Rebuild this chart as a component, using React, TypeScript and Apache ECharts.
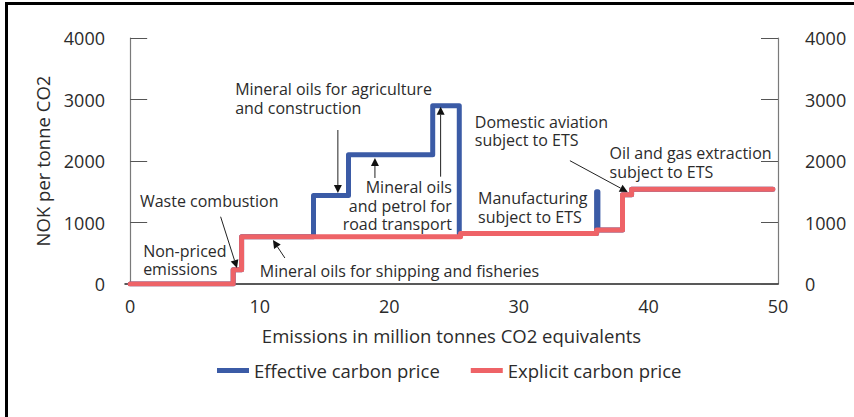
import React, { useEffect, useRef } from "react";
import * as echarts from "echarts";

// Step breakpoints (million tonnes CO2) and price levels (NOK per tonne CO2)
const effectiveBreaks = [0, 7.95, 8.6, 14.15, 16.85, 23.35, 25.4, 36.0, 36.1, 38.0, 38.7, 49.6];
const effectiveLevels = [0, 230, 770, 1440, 2100, 2900, 820, 1500, 880, 1450, 1540, 1540];
const explicitBreaks = [0, 7.95, 8.6, 25.5, 36.0, 38.0, 38.7, 49.6];
const explicitLevels = [0, 230, 770, 820, 880, 1450, 1540, 1540];

const xTickValues = [0, 10, 20, 30, 40, 50];
const seriesNames = ["Effective carbon price", "Explicit carbon price"];

// annotation texts, anchored at data coordinates (first line centre)
const annotationTexts = [
  "Non-priced\nemissions",
  "Waste combustion",
  "Mineral oils for shipping and fisheries",
  "Mineral oils for agriculture\nand construction",
  "Mineral oils\nand petrol for\nroad transport",
  "Domestic aviation\nsubject to ETS",
  "Oil and gas extraction\nsubject to ETS",
  "Manufacturing\nsubject to ETS",
];
const annotationX = [1.0, 0.75, 10.0, 8.1, 24.83, 26.6, 37.0, 26.85];
const annotationY = [541, 1355, 210, 3165, 1570, 2640, 2125, 1395];
const annotationAlign = ["left", "left", "left", "left", "right", "left", "left", "left"];

// arrows: from -> to (data coordinates)
const arrowFromX = [6.98, 11.94, 16.03, 18.89, 23.96, 33.94];
const arrowFromY = [1094, 423, 2504, 1724, 1745, 2005];
const arrowToX = [8.24, 11.02, 16.03, 18.89, 23.96, 38.4];
const arrowToY = [260, 715, 1480, 2049, 2883, 1496];

const FONT = "'Open Sans', 'Noto Sans', sans-serif";
const TEXT = "#2b2b2b";
const BLUE = "#3b5ba6";
const RED = "#ee6367";

function toSteps(breaks: number[], levels: number[]) {
  return breaks.map((b, i) => [b, levels[i]]);
}

export default function App() {
  const ref = useRef<HTMLDivElement>(null);
  useEffect(() => {
    if (!ref.current) return;
    const chart = echarts.init(ref.current, undefined, { renderer: "svg" });
    const yAxisCommon = {
      type: "value" as const,
      min: 0,
      max: 4000,
      interval: 1000,
      splitLine: { show: false },
      axisLine: { show: true, lineStyle: { color: "#7a7a7a", width: 1.2 } },
      axisTick: { show: true, inside: true, length: 17, lineStyle: { color: "#555", width: 1 } },
      axisLabel: {
        color: TEXT,
        fontSize: 18,
        fontFamily: FONT,
        formatter: (v: number) => String(v),
      },
    };
    chart.setOption({
      animation: false,
      grid: { left: 125, right: 76, top: 38, bottom: 133 },
      xAxis: {
        type: "value",
        min: -0.4,
        max: 50,
        splitLine: { show: false },
        axisLine: { show: true, lineStyle: { color: "#222", width: 1.5 } },
        axisTick: { show: false },
        axisLabel: {
          color: TEXT,
          fontSize: 18,
          fontFamily: FONT,
          margin: 13,
          customValues: xTickValues,
          formatter: (v: number) => String(v),
        },
        name: "Emissions in million tonnes CO2 equivalents",
        nameLocation: "middle",
        nameGap: 42,
        nameTextStyle: { color: TEXT, fontSize: 18.5, fontFamily: FONT },
      },
      yAxis: [
        {
          ...yAxisCommon,
          position: "left",
          axisLabel: { ...yAxisCommon.axisLabel, margin: 20 },
          name: "NOK per tonne CO2",
          nameLocation: "middle",
          nameGap: 73,
          nameTextStyle: { color: TEXT, fontSize: 18.5, fontFamily: FONT },
        },
        {
          ...yAxisCommon,
          position: "right",
          axisLabel: { ...yAxisCommon.axisLabel, margin: 27 },
        },
      ],
      legend: {
        left: 217,
        top: 361,
        padding: 0,
        icon: "rect",
        itemWidth: 32,
        itemHeight: 5,
        itemGap: 31,
        textStyle: { color: TEXT, fontSize: 18.5, fontFamily: FONT },
        data: seriesNames,
      },
      series: [
        {
          name: seriesNames[0],
          type: "line",
          step: "end",
          symbol: "none",
          color: BLUE,
          lineStyle: { color: BLUE, width: 5, join: "round", cap: "round" },
          data: toSteps(effectiveBreaks, effectiveLevels),
          z: 2,
        },
        {
          name: seriesNames[1],
          type: "line",
          step: "end",
          symbol: "none",
          color: RED,
          lineStyle: { color: RED, width: 5, join: "round", cap: "round" },
          data: toSteps(explicitBreaks, explicitLevels),
          z: 3,
        },
      ],
    });

    const px = (x: number, y: number) =>
      chart.convertToPixel({ xAxisIndex: 0, yAxisIndex: 0 }, [x, y]) as number[];
    const lineHeight = 18.5;
    const elements: any[] = [];
    annotationTexts.forEach((t, i) => {
      const p = px(annotationX[i], annotationY[i]);
      elements.push({
        type: "text",
        x: p[0],
        y: p[1] - lineHeight / 2,
        z: 10,
        style: {
          text: t,
          fill: TEXT,
          font: `16px ${FONT}`,
          lineHeight,
          align: annotationAlign[i],
          verticalAlign: "top",
        },
      });
    });
    arrowFromX.forEach((_, i) => {
      const a = px(arrowFromX[i], arrowFromY[i]);
      const b = px(arrowToX[i], arrowToY[i]);
      const dx = b[0] - a[0];
      const dy = b[1] - a[1];
      const len = Math.sqrt(dx * dx + dy * dy);
      const ux = dx / len;
      const uy = dy / len;
      const hl = 8;
      const hw = 4;
      const bx = b[0] - ux * hl;
      const by = b[1] - uy * hl;
      elements.push({
        type: "line",
        z: 10,
        shape: { x1: a[0], y1: a[1], x2: bx, y2: by },
        style: { stroke: "#222", lineWidth: 1 },
      });
      elements.push({
        type: "polygon",
        z: 10,
        shape: {
          points: [
            [b[0], b[1]],
            [bx - uy * hw, by + ux * hw],
            [bx + uy * hw, by - ux * hw],
          ],
        },
        style: { fill: "#111" },
      });
    });
    chart.setOption({ graphic: { elements } });
    return () => chart.dispose();
  }, []);

  return (
    <div style={{ position: "absolute", left: 0, top: 0, width: 854, height: 417, background: "#fff", overflow: "hidden" }}>
      <div ref={ref} style={{ position: "absolute", left: 0, top: 0, width: 854, height: 417 }} />
      <div style={{ position: "absolute", left: 5, top: 2, width: 849, height: 3, background: "#000" }} />
      <div style={{ position: "absolute", left: 5, top: 2, width: 3, height: 415, background: "#000" }} />
    </div>
  );
}
